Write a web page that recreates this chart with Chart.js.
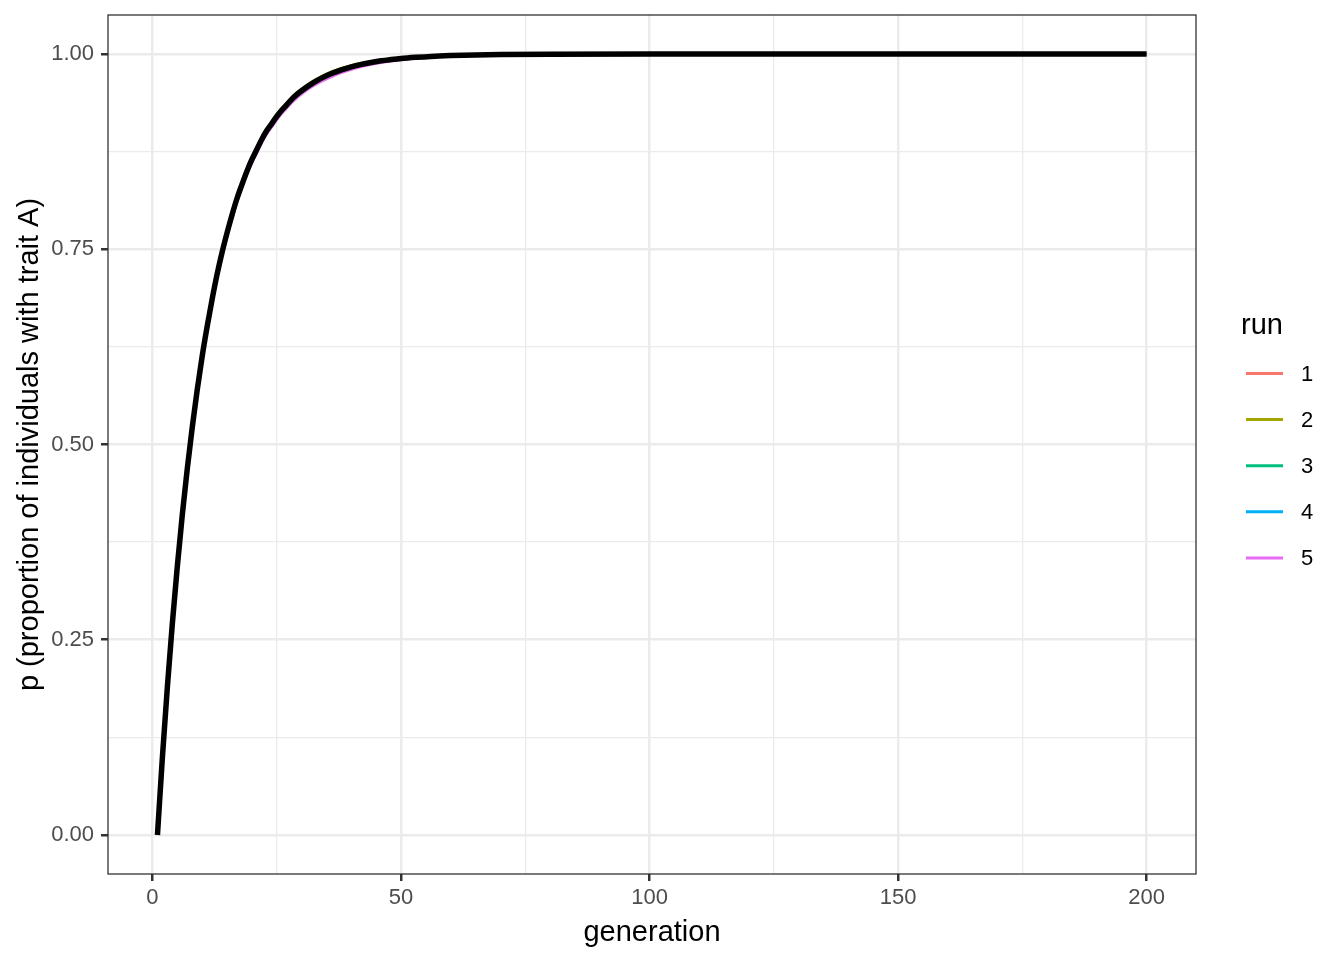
<!DOCTYPE html>
<html>
<head>
<meta charset="utf-8">
<script src="https://cdn.jsdelivr.net/npm/chart.js@4.4.0/dist/chart.umd.min.js"></script>
<style>
html, body { margin: 0; padding: 0; background: #ffffff; }
#wrap { width: 1344px; height: 960px; }
</style>
</head>
<body>
<div id="wrap"><canvas id="grafico" width="1344" height="960"></canvas></div>
<script>
// Generations (dense where the curve bends)
var generation = [1, 2, 3, 4, 5, 6, 7, 8, 9, 10, 11, 12, 13, 14, 15, 16, 17, 18, 19, 20,
    21, 22, 23, 24, 25, 26, 27, 28, 29, 30, 32, 34, 36, 38, 40, 42, 44, 46, 48, 50,
    53, 56, 60, 65, 70, 80, 100, 150, 200];

// Proportion p for each run
var run1 = [0, .098, .192, .270, .346, .409, .470, .521, .571, .612, .652, .685, .719, .745, .772, .793, .816, .832, .851, .864,
    .879, .890, .903, .910, .921, .927, .936, .941, .949, .952,
    .9625, .9688, .9755, .9793, .9840, .9864, .9895, .9910, .9931, .9942,
    .9959, .9969, .9981, .9988, .9993, .9998, 1, 1, 1];
var run2 = [0, .101, .191, .272, .345, .412, .470, .524, .571, .615, .652, .688, .719, .748, .773, .796, .817, .835, .852, .867,
    .880, .893, .904, .913, .922, .930, .937, .944, .950, .955,
    .9640, .9710, .9770, .9815, .9852, .9879, .9900, .9920, .9935, .9948,
    .9962, .9973, .9982, .9989, .9994, .9998, 1, 1, 1];
var run3 = [0, .099, .189, .270, .343, .409, .468, .522, .569, .613, .650, .686, .717, .746, .770, .794, .814, .833, .849, .865,
    .877, .891, .901, .911, .919, .928, .934, .942, .947, .953,
    .9612, .9690, .9745, .9798, .9832, .9868, .9890, .9912, .9928, .9943,
    .9957, .9970, .9980, .9988, .9993, .9998, 1, 1, 1];
var run4 = [0, .100, .190, .271, .344, .410, .469, .521, .570, .612, .651, .686, .718, .745, .771, .794, .815, .832, .850, .864,
    .878, .890, .902, .910, .920, .927, .935, .941, .948, .952,
    .9620, .9692, .9752, .9799, .9838, .9866, .9893, .9913, .9930, .9944,
    .9958, .9970, .9980, .9988, .9993, .9998, 1, 1, 1];
var run5 = [0, .100, .189, .269, .342, .408, .467, .519, .567, .610, .648, .683, .715, .742, .768, .790, .811, .829, .846, .861,
    .874, .887, .898, .907, .916, .924, .931, .938, .944, .949,
    .9580, .9652, .9712, .9762, .9805, .9840, .9870, .9893, .9912, .9928,
    .9946, .9962, .9975, .9985, .9991, .9997, 1, 1, 1];

// Thick black line drawn over the runs
var meanP = [0, .100, .190, .271, .344, .410, .469, .522, .570, .613, .651, .686, .718, .746, .771, .794, .815, .833, .850, .865,
    .878, .891, .902, .911, .920, .928, .935, .942, .948, .953,
    .9618, .9691, .9750, .9797, .9836, .9867, .9892, .9913, .9929, .9943,
    .9958, .9970, .9980, .9988, .9993, .9998, 1, 1, 1];

var runLabels = ['1', '2', '3', '4', '5'];
var runColors = ['#F8766D', '#A3A500', '#00BF7D', '#00B0F6', '#E76BF3'];

// Ticks (empty label = minor gridline)
var xTicks = [0, 25, 50, 75, 100, 125, 150, 175, 200];
var xTickLabels = ['0', '', '50', '', '100', '', '150', '', '200'];
var yTicks = [0, 0.125, 0.25, 0.375, 0.5, 0.625, 0.75, 0.875, 1];
var yTickLabels = ['0.00', '', '0.25', '', '0.50', '', '0.75', '', '1.00'];

var fonte = 'Liberation Sans, Arial, Helvetica, sans-serif';

function pontos(valores) {
    return generation.map(function (g, i) {
        return { x: g, y: valores[i] };
    });
}

// Is this tick one of the labelled ones?
function ehMajor(lista, rotulos, valor) {
    var i = lista.indexOf(valor);
    return i >= 0 && rotulos[i] !== '';
}

var runs = [run1, run2, run3, run4, run5];
var datasets = [{
    label: 'media',
    data: pontos(meanP),
    borderColor: '#000000',
    borderWidth: 5.5,
    pointRadius: 0,
    cubicInterpolationMode: 'monotone',
    borderCapStyle: 'butt'
}];
runs.forEach(function (r, i) {
    datasets.push({
        label: runLabels[i],
        data: pontos(r),
        borderColor: runColors[i],
        borderWidth: 3,
        pointRadius: 0,
        cubicInterpolationMode: 'monotone'
    });
});

// Panel border drawn on top of everything
var bordaPainel = {
    id: 'bordaPainel',
    afterDatasetsDraw: function (chart) {
        var a = chart.chartArea;
        var ctx = chart.ctx;
        ctx.save();
        ctx.strokeStyle = '#333333';
        ctx.lineWidth = 1.3;
        ctx.strokeRect(a.left, a.top, a.right - a.left, a.bottom - a.top);
        ctx.restore();
    }
};

// ggplot-like legend on the right
var legendaRun = {
    id: 'legendaRun',
    afterDraw: function (chart) {
        var ctx = chart.ctx;
        ctx.save();
        ctx.fillStyle = '#000000';
        ctx.textBaseline = 'middle';
        ctx.textAlign = 'left';
        ctx.font = '29px ' + fonte;
        ctx.fillText('run', 1241, 326);
        ctx.font = '22px ' + fonte;
        var y = 373.5;
        chart.data.datasets.forEach(function (ds) {
            if (runLabels.indexOf(ds.label) < 0) return;
            ctx.strokeStyle = ds.borderColor;
            ctx.lineWidth = 3;
            ctx.beginPath();
            ctx.moveTo(1246, y);
            ctx.lineTo(1283, y);
            ctx.stroke();
            ctx.fillStyle = '#000000';
            ctx.fillText(ds.label, 1301, y + 1);
            y += 46.1;
        });
        ctx.restore();
    }
};

var ctx = document.getElementById('grafico').getContext('2d');

var grafico = new Chart(ctx, {
    type: 'line',
    data: { datasets: datasets },
    plugins: [bordaPainel, legendaRun],
    options: {
        responsive: false,
        animation: false,
        devicePixelRatio: 1,
        layout: { padding: { top: 15, right: 148, bottom: 0, left: 0 } },
        plugins: {
            legend: { display: false },
            tooltip: { enabled: false }
        },
        scales: {
            x: {
                type: 'linear',
                position: 'bottom',
                min: -8.95,
                max: 209.95,
                afterBuildTicks: function (scale) {
                    scale.ticks = xTicks.map(function (v) { return { value: v }; });
                },
                afterFit: function (scale) {
                    scale.height = 86;
                    scale.paddingLeft = 0;
                    scale.paddingRight = 0;
                },
                border: { display: false },
                grid: {
                    color: '#EBEBEB',
                    lineWidth: function (c) {
                        return c.tick && ehMajor(xTicks, xTickLabels, c.tick.value) ? 2.5 : 1.3;
                    },
                    tickColor: function (c) {
                        return c.tick && ehMajor(xTicks, xTickLabels, c.tick.value) ? '#333333' : 'rgba(0,0,0,0)';
                    },
                    tickWidth: 2.5,
                    tickLength: 7
                },
                ticks: {
                    autoSkip: false,
                    maxRotation: 0,
                    padding: 4,
                    color: '#4D4D4D',
                    font: { family: fonte, size: 22 },
                    callback: function (v) { return xTickLabels[xTicks.indexOf(v)]; }
                },
                title: {
                    display: true,
                    text: 'generation',
                    color: '#000000',
                    font: { family: fonte, size: 29 },
                    padding: { top: 0, bottom: 10 }
                }
            },
            y: {
                type: 'linear',
                min: -0.05,
                max: 1.05,
                afterBuildTicks: function (scale) {
                    scale.ticks = yTicks.map(function (v) { return { value: v }; });
                },
                afterFit: function (scale) {
                    scale.width = 108;
                    scale.paddingTop = 0;
                    scale.paddingBottom = 0;
                },
                border: { display: false },
                grid: {
                    color: '#EBEBEB',
                    lineWidth: function (c) {
                        return c.tick && ehMajor(yTicks, yTickLabels, c.tick.value) ? 2.5 : 1.3;
                    },
                    tickColor: function (c) {
                        return c.tick && ehMajor(yTicks, yTickLabels, c.tick.value) ? '#333333' : 'rgba(0,0,0,0)';
                    },
                    tickWidth: 2.5,
                    tickLength: 7
                },
                ticks: {
                    autoSkip: false,
                    padding: 7,
                    color: '#4D4D4D',
                    font: { family: fonte, size: 22 },
                    callback: function (v) { return yTickLabels[yTicks.indexOf(v)]; }
                },
                title: {
                    display: true,
                    text: 'p (proportion of individuals with trait A)',
                    color: '#000000',
                    font: { family: fonte, size: 29 },
                    padding: { top: 13, bottom: 0 }
                }
            }
        }
    }
});
</script>
</body>
</html>
